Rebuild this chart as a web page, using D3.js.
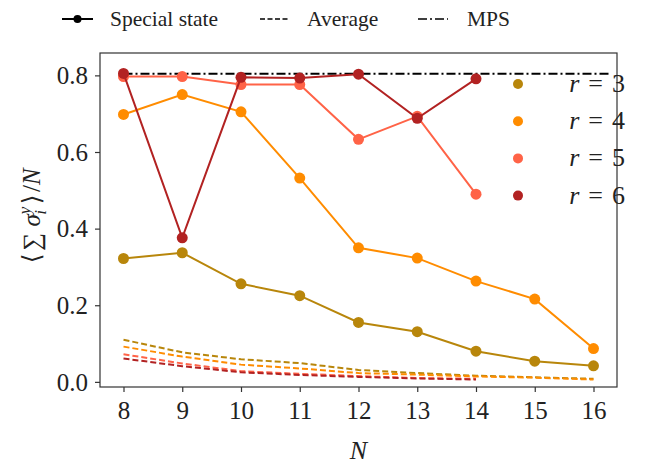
<!DOCTYPE html>
<html>
<head>
<meta charset="utf-8">
<script src="https://cdn.jsdelivr.net/npm/d3@7"></script>
</head>
<body style="margin:0">
<svg id="chart" width="648" height="464"></svg>
<script>
// values
let Ns = [8, 9, 10, 11, 12, 13, 14, 15, 16];
let rs = [3, 4, 5, 6];
let colores = ["#b8860b", "#ff8c00", "#ff6347", "#b22222"];

let special3 = [0.322, 0.337, 0.256, 0.225, 0.155, 0.131, 0.080, 0.054, 0.042];
let special4 = [0.698, 0.750, 0.705, 0.532, 0.350, 0.323, 0.263, 0.216, 0.087];
let special5 = [0.797, 0.797, 0.776, 0.776, 0.633, 0.693, 0.490];
let special6 = [0.805, 0.376, 0.795, 0.793, 0.803, 0.688, 0.791];

let average3 = [0.110, 0.077, 0.059, 0.049, 0.031, 0.023, 0.016, 0.012, 0.008];
let average4 = [0.092, 0.066, 0.045, 0.035, 0.023, 0.019, 0.014, 0.011, 0.006];
let average5 = [0.072, 0.048, 0.028, 0.021, 0.015, 0.010, 0.008];
let average6 = [0.061, 0.041, 0.025, 0.018, 0.013, 0.009, 0.006];

let mps = 0.804;
let mpsRango = [8, 16.27];

let yTicks = [0.0, 0.2, 0.4, 0.6, 0.8];

let specials = [special3, special4, special5, special6];
let averages = [average3, average4, average5, average6];

let fuente = `"Liberation Serif", monospace`;

let svg = d3.select("#chart");
let margin = {top: 53, right: 31, bottom: 77, left: 100};
let w = 648 - margin.left - margin.right;
let h = 464 - margin.top - margin.bottom;

let x = d3.scaleLinear().domain([7.6, 16.4]).range([0, w]);
let y = d3.scaleLinear().domain([-0.0134, 0.8584]).range([h, 0]);

let g = svg.append("g").attr("transform", `translate(${margin.left},${margin.top})`);

let linea = d3.line().x(d => x(d[0])).y(d => y(d[1]));

// average (dashed)
averages.forEach((serie, i) => {
    g.append("path")
        .datum(serie.map((v, j) => [Ns[j], v]))
        .attr("d", linea)
        .attr("fill", "none")
        .attr("stroke", colores[i])
        .attr("stroke-width", 2)
        .attr("stroke-dasharray", "6,3");
});

// MPS line
g.append("path")
    .datum(mpsRango.map(n => [n, mps]))
    .attr("d", linea)
    .attr("fill", "none")
    .attr("stroke", "black")
    .attr("stroke-width", 2)
    .attr("stroke-dasharray", "9,3,2,3");

// special states
specials.forEach((serie, i) => {
    let pts = serie.map((v, j) => [Ns[j], v]);
    g.append("path")
        .datum(pts)
        .attr("d", linea)
        .attr("fill", "none")
        .attr("stroke", colores[i])
        .attr("stroke-width", 2);
    g.selectAll(".pt" + i)
        .data(pts)
        .enter()
        .append("circle")
        .attr("cx", d => x(d[0]))
        .attr("cy", d => y(d[1]))
        .attr("r", 5.5)
        .attr("fill", colores[i]);
});

// axes
let ejeX = g.append("g").attr("transform", `translate(0,${h})`)
    .call(d3.axisBottom(x).tickValues(Ns).tickSize(5).tickPadding(9).tickFormat(d3.format("d")));
let ejeY = g.append("g")
    .call(d3.axisLeft(y).tickValues(yTicks).tickSize(5).tickPadding(7).tickFormat(d3.format(".1f")));
[ejeX, ejeY].forEach(e => {
    e.attr("font-family", null).attr("font-size", null);
    e.select(".domain").remove();
    e.selectAll("line").attr("stroke", "#333").attr("stroke-width", 1.2);
    e.selectAll("text")
        .style("font-family", fuente)
        .style("font-size", "25px")
        .attr("fill", "#222");
});
ejeY.selectAll("text").attr("dy", "0.33em");

g.append("rect")
    .attr("width", w).attr("height", h)
    .attr("fill", "none").attr("stroke", "#333").attr("stroke-width", 1.2);

// axis labels
svg.append("text")
    .attr("x", margin.left + w / 2).attr("y", 459)
    .attr("text-anchor", "middle").attr("fill", "#222")
    .style("font-family", fuente)
    .style("font-size", "26px").style("font-style", "italic")
    .text("N");

let yl = svg.append("text")
    .attr("transform", "translate(40,217) rotate(-90)")
    .attr("text-anchor", "middle").attr("fill", "#222")
    .style("font-family", fuente)
    .style("font-size", "25px");
yl.append("tspan").text("⟨∑ ");
yl.append("tspan").style("font-style", "italic").text("σ");
yl.append("tspan").style("font-style", "italic").style("font-size", "17px").attr("dy", -10).text("y");
yl.append("tspan").style("font-style", "italic").style("font-size", "17px").attr("dx", -8).attr("dy", 16).text("i");
yl.append("tspan").attr("dy", -6).attr("dx", 3).text("⟩/");
yl.append("tspan").style("font-style", "italic").text("N");

// inner legend (r)
let leg = svg.append("g");
rs.forEach((r, i) => {
    let yy = 84 + i * 37.2;
    leg.append("circle").attr("cx", 518).attr("cy", yy).attr("r", 5).attr("fill", colores[i]);
    let t = leg.append("text").attr("x", 625).attr("y", yy + 8).attr("fill", "#222")
        .attr("text-anchor", "end")
        .style("font-family", fuente).style("font-size", "26px");
    t.append("tspan").style("font-style", "italic").text("r");
    t.append("tspan").attr("dx", 9).text("=");
    t.append("tspan").attr("dx", 9).text(r);
});

// top legend
let legTop = svg.append("g");
let textoTop = (xx, s) => legTop.append("text").attr("x", xx).attr("y", 26)
    .attr("fill", "#222").style("font-family", fuente).style("font-size", "21.5px").text(s);
legTop.append("line").attr("x1", 62).attr("x2", 93).attr("y1", 19).attr("y2", 19)
    .attr("stroke", "black").attr("stroke-width", 2);
legTop.append("circle").attr("cx", 77.5).attr("cy", 19).attr("r", 4).attr("fill", "black");
textoTop(110, "Special state");
legTop.append("line").attr("x1", 260).attr("x2", 289).attr("y1", 19).attr("y2", 19)
    .attr("stroke", "black").attr("stroke-width", 1.6).attr("stroke-dasharray", "5,2.5");
textoTop(307, "Average");
legTop.append("line").attr("x1", 418).attr("x2", 448).attr("y1", 19).attr("y2", 19)
    .attr("stroke", "black").attr("stroke-width", 1.6).attr("stroke-dasharray", "9,3,2,3");
textoTop(467, "MPS");
</script>
</body>
</html>
